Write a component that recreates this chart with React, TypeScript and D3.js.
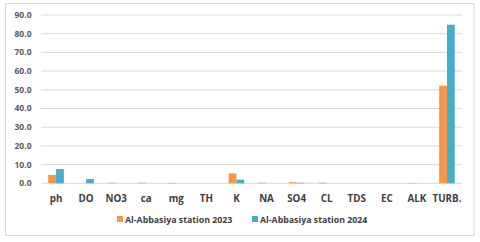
import React from "react";
import * as d3 from "d3";

const categories = ["ph", "DO", "NO3", "ca", "mg", "TH", "K", "NA", "SO4", "CL", "TDS", "EC", "ALK", "TURB."];
const series2023 = [4.5, 0, 0.3, 0.3, 0.2, 0, 5.3, 0.3, 0.6, 0.3, 0, 0, 0.2, 52.2];
const series2024 = [7.6, 2.3, 0, 0, 0, 0, 1.9, 0, 0.3, 0, 0, 0, 0, 84.8];
const seriesNames = ["Al-Abbasiya station 2023", "Al-Abbasiya station 2024"];
const colors = ["#F79646", "#4BACC6"];
const yTicks = [0, 10, 20, 30, 40, 50, 60, 70, 80, 90];

export default function App() {
  const W = 480, H = 242;
  const left = 41, right = 462, top = 15, bottom = 183.3;
  const x = d3.scaleBand<string>().domain(categories).range([left, right]);
  const y = d3.scaleLinear().domain([0, 90]).range([bottom, top]);
  const barW = 7.8;
  const font = "'Open Sans', sans-serif";
  const series = [series2023, series2024];
  return (
    <svg width={W} height={H} style={{ position: "absolute", left: 0, top: 0 }}>
      <rect x={0} y={0} width={W} height={H} fill="#fff" />
      <rect x={5.5} y={3.5} width={468.5} height={232} fill="#fff" stroke="#d9d9d9" strokeWidth={1} />
      {yTicks.map((t) => (
        <g key={t}>
          <line x1={left} x2={right} y1={y(t)} y2={y(t)} stroke="#d9d9d9" strokeWidth={1} />
          <text x={31.5} y={y(t)} dy="0.35em" textAnchor="end" fontFamily={font} fontWeight="bold" fontSize={8.5} fill="#595959">
            {t.toFixed(1)}
          </text>
        </g>
      ))}
      {series.map((vals, si) =>
        vals.map((v, i) => {
          const cx = x(categories[i])! + x.bandwidth() / 2;
          const bx = si === 0 ? cx - barW : cx;
          return v > 0 ? (
            <rect key={si + "-" + i} x={bx} y={y(v)} width={barW} height={bottom - y(v)} fill={colors[si]} />
          ) : null;
        })
      )}
      {categories.map((c) => (
        <text key={c} x={x(c)! + x.bandwidth() / 2} y={201.5} textAnchor="middle" fontFamily={font} fontWeight="bold" fontSize={9.8} fill="#404040">
          {c}
        </text>
      ))}
      {seriesNames.map((n, i) => {
        const lx = i === 0 ? 117 : 252;
        return (
          <g key={n}>
            <rect x={lx} y={216} width={6} height={6} fill={colors[i]} />
            <text x={lx + 8} y={222.5} fontFamily={font} fontWeight="bold" fontSize={8.8} fill="#404040">
              {n}
            </text>
          </g>
        );
      })}
    </svg>
  );
}
